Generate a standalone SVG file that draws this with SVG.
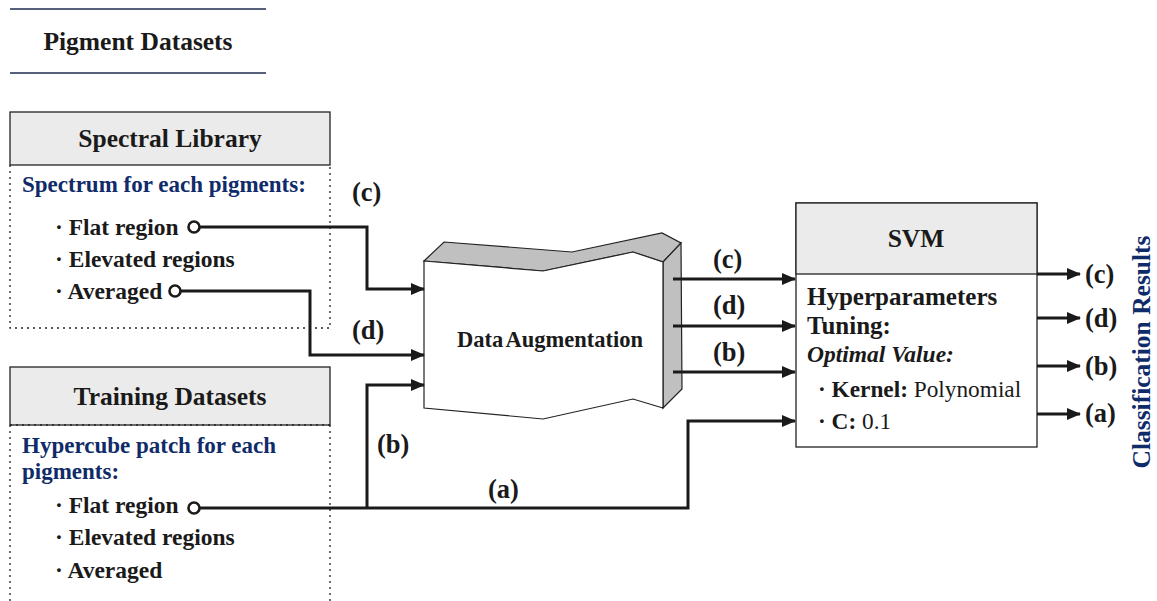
<svg xmlns="http://www.w3.org/2000/svg" width="1157" height="601" viewBox="0 0 1157 601">
<defs>
<style>
text{font-family:"Liberation Serif","Times New Roman",serif;font-weight:bold;fill:#1a1a1a}
.hdr{fill:#ebebeb;stroke:#222;stroke-width:1.3}
.dot{fill:none;stroke:#222;stroke-width:1.3;stroke-dasharray:2,4}
.blue{fill:#0f2b69}
.lbl{font-size:26.5px}
.head{font-size:25.5px}
.item{font-size:23.5px}
.wire{fill:none;stroke:#1a1a1a;stroke-width:3}
.term{fill:#fff;stroke:#1a1a1a;stroke-width:2.6}
.reg{font-weight:normal}
</style>
<marker id="arr" markerWidth="14" markerHeight="12" refX="13" refY="6" orient="auto" markerUnits="userSpaceOnUse">
<path d="M0,0 L14,6 L0,12 Z" fill="#1a1a1a"/>
</marker>
</defs>
<rect width="1157" height="601" fill="#fff"/>

<g id="pigment-datasets">
<line x1="10" y1="9" x2="266" y2="9" stroke="#56607a" stroke-width="2"/>
<line x1="10" y1="73" x2="266" y2="73" stroke="#56607a" stroke-width="2"/>
<text x="138" y="50" class="head" text-anchor="middle">Pigment Datasets</text>
</g>

<g id="spectral-library">
<rect class="hdr" x="10" y="112" width="320" height="53"/>
<text x="170" y="147" class="head" text-anchor="middle">Spectral Library</text>
<path class="dot" d="M10,165 V328 H330 V165"/>
<text x="22" y="192" font-size="23" class="blue">Spectrum for each pigments:</text>
<text x="55" y="235" class="item">· Flat region</text>
<text x="55" y="267" class="item">· Elevated regions</text>
<text x="55" y="299" class="item">· Averaged</text>
</g>

<g id="training-datasets">
<rect class="hdr" x="10" y="367" width="320" height="58"/>
<text x="170" y="405" class="head" text-anchor="middle">Training Datasets</text>
<path class="dot" d="M10,425 V601 M330,425 V601 M10,425 H330"/>
<text x="22" y="453" font-size="23" class="blue">Hypercube patch for each</text>
<text x="22" y="479" font-size="23" class="blue">pigments:</text>
<text x="55" y="513" class="item">· Flat region</text>
<text x="55" y="545" class="item">· Elevated regions</text>
<text x="55" y="578" class="item">· Averaged</text>
</g>

<g id="data-augmentation">
<polygon points="424,261 444,242 572,252 662,233 681,243 663,262 633,252 543,271" fill="#c0c0c0" stroke="#222" stroke-width="1.2"/>
<polygon points="663,262 681,243 682,389 663,408" fill="#c0c0c0" stroke="#222" stroke-width="1.2"/>
<polygon points="424,261 543,271 633,252 663,262 663,408 633,399 543,419 424,408" fill="#fff" stroke="#222" stroke-width="1.2"/>
<text x="550" y="347" font-size="22.5" word-spacing="-2" text-anchor="middle">Data Augmentation</text>
</g>

<g id="svm">
<rect x="796" y="203" width="241" height="244" fill="#fff" stroke="#222" stroke-width="1.3"/>
<rect class="hdr" x="796" y="203" width="241" height="71"/>
<text x="916" y="247" class="head" text-anchor="middle">SVM</text>
<text x="807" y="305" font-size="25">Hyperparameters</text>
<text x="807" y="334" font-size="25">Tuning:</text>
<text x="807" y="362" font-size="23.5" font-style="italic">Optimal Value:</text>
<text x="818" y="397" font-size="23.3">· Kernel: <tspan class="reg">Polynomial</tspan></text>
<text x="818" y="429" font-size="23.3">· C: <tspan class="reg">0.1</tspan></text>
</g>

<g id="classification-results">
<text transform="translate(1150,352) rotate(-90)" font-size="25.5" text-anchor="middle" class="blue">Classification Results</text>
<text x="1085" y="283" class="lbl">(c)</text>
<text x="1085" y="327" class="lbl">(d)</text>
<text x="1085" y="375" class="lbl">(b)</text>
<text x="1085" y="422" class="lbl">(a)</text>
</g>

<g id="connectors">
<path class="wire" d="M199,227 H367 V289 H424" marker-end="url(#arr)"/>
<path class="wire" d="M180,291 H310 V355 H424" marker-end="url(#arr)"/>
<path class="wire" d="M199,508 H688 V421 H795" marker-end="url(#arr)"/>
<path class="wire" d="M367,508 V385 H424" marker-end="url(#arr)"/>
<path class="wire" d="M673,279 H795" marker-end="url(#arr)"/>
<path class="wire" d="M673,326 H795" marker-end="url(#arr)"/>
<path class="wire" d="M673,372 H795" marker-end="url(#arr)"/>
<path class="wire" d="M1037,274 H1080" marker-end="url(#arr)"/>
<path class="wire" d="M1037,318 H1080" marker-end="url(#arr)"/>
<path class="wire" d="M1037,366 H1080" marker-end="url(#arr)"/>
<path class="wire" d="M1037,414 H1080" marker-end="url(#arr)"/>
<circle class="term" cx="194" cy="227" r="5.5"/>
<circle class="term" cx="175" cy="291" r="5.5"/>
<circle class="term" cx="194" cy="508" r="5.5"/>
<text x="352" y="201" class="lbl">(c)</text>
<text x="352" y="339" class="lbl">(d)</text>
<text x="377" y="453" class="lbl">(b)</text>
<text x="488" y="498" class="lbl">(a)</text>
<text x="713" y="268" class="lbl">(c)</text>
<text x="713" y="314" class="lbl">(d)</text>
<text x="713" y="361" class="lbl">(b)</text>
</g>
</svg>
